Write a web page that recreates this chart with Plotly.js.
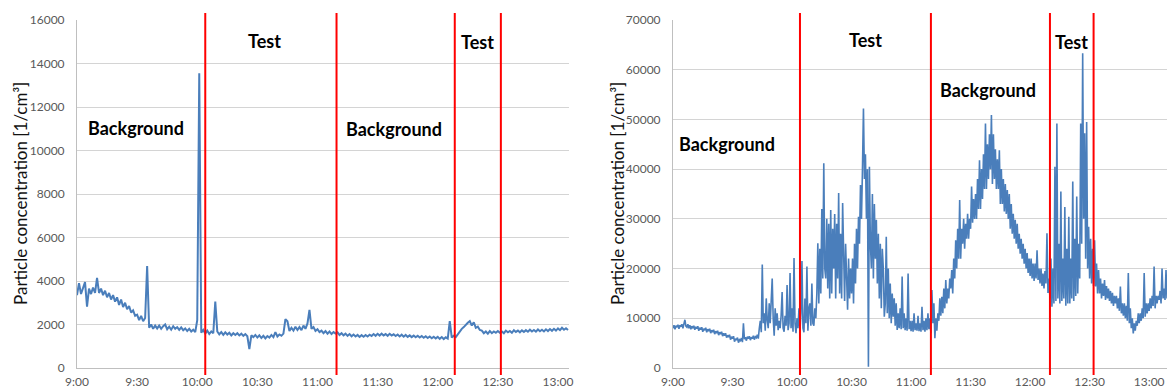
<!DOCTYPE html>
<html>
<head>
<meta charset="utf-8">
<script src="https://cdn.plot.ly/plotly-3.0.1.min.js"></script>
<style>
html,body{margin:0;padding:0;background:#fff;}
#chart{width:1168px;height:392px;}
</style>
</head>
<body>
<div id="chart"></div>
<script>
// Time axis: minutes after 9:00
const tickMinutes = [0, 30, 60, 90, 120, 150, 180, 210, 240];
const tickLabels = ['9:00', '9:30', '10:00', '10:30', '11:00', '11:30', '12:00', '12:30', '13:00'];
const yTitle = 'Particle concentration [1/cm³]';

// Phase boundaries (minutes after 9:00)
const boundariesLeft = [64, 129.5, 188.5, 211.5];
const boundariesRight = [64, 130, 190, 212];

// Left chart: particle concentration [1/cm3], one sample per minute
const leftValues = [
  3350, 3900, 3400, 3700, 3950, 2820, 3650, 3400, 3700, 3450,
  4140, 3450, 3650, 3350, 3550, 3250, 3450, 3150, 3350, 3050,
  3250, 2900, 3150, 2800, 3000, 2700, 2850, 2550, 2650, 2400,
  2450, 2200, 2400, 2150, 2300, 4690, 1850, 2000, 1800, 1950,
  1820, 1950, 1800, 1920, 2000, 1780, 1900, 1760, 1920, 1800,
  1880, 1750, 1870, 1740, 1820, 1700, 1800, 1680, 1760, 1650,
  2200, 13550, 1620, 1750, 1580, 1720, 1560, 1680, 1600, 3050,
  1680, 1550, 1650, 1520, 1640, 1540, 1620, 1500, 1600, 1520,
  1600, 1500, 1580, 1480, 1560, 1460, 870, 1500, 1420, 1520,
  1400, 1500, 1380, 1480, 1360, 1470, 1400, 1520, 1420, 1650,
  1450, 1540, 1480, 1580, 2250, 2150, 1700, 1850, 1720, 1900,
  1750, 1880, 1740, 1950, 1800, 2050, 2670, 1800, 1880, 1700,
  1780, 1650, 1720, 1600, 1700, 1580, 1680, 1560, 1650, 1580,
  1640, 1520, 1600, 1500, 1580, 1480, 1560, 1460, 1540, 1450,
  1520, 1430, 1510, 1440, 1520, 1450, 1530, 1470, 1560, 1480,
  1570, 1490, 1580, 1500, 1560, 1480, 1570, 1490, 1550, 1470,
  1540, 1450, 1530, 1440, 1520, 1430, 1500, 1420, 1490, 1410,
  1480, 1400, 1470, 1390, 1460, 1380, 1450, 1370, 1440, 1360,
  1430, 1340, 1420, 1330, 1410, 1350, 2160, 1400, 1480, 1420,
  1560, 1650, 1800, 1880, 2000, 2080, 2160, 1950, 2100, 1850,
  1900, 1750, 1720, 1600, 1680, 1580, 1700, 1600, 1680, 1620,
  1700, 1620, 1680, 1600, 1720, 1640, 1700, 1620, 1740, 1660,
  1720, 1640, 1730, 1660, 1740, 1670, 1760, 1680, 1750, 1670,
  1770, 1690, 1760, 1680, 1780, 1700, 1790, 1710, 1800, 1720,
  1820, 1740, 1850, 1760, 1830, 1750
];
const leftStepMin = 1;

// Right chart: particle concentration [1/cm3], one sample per 30 s
const rightValues = [
  8000, 8600, 7800, 8500, 8200, 8700, 7900, 8600, 8300, 8800, 8000, 8700, 9700, 8400, 8200, 8800, 8000, 8600, 7800, 8400,
  8100, 8500, 7700, 8300, 7900, 8400, 7500, 8100, 7700, 8200, 7300, 7900, 7600, 8100, 7200, 7800, 7400, 7900, 7000, 7600,
  7200, 7700, 6800, 7400, 7000, 7500, 6600, 7200, 6800, 7300, 6400, 7000, 6500, 7000, 6100, 6600, 6200, 6700, 5700, 6300,
  5900, 6400, 5300, 5900, 5600, 6100, 5100, 5700, 5500, 6000, 5200, 9000, 5800, 6200, 5500, 6300, 5900, 6400, 5600, 6200,
  5900, 6500, 5700, 6300, 6100, 6700, 5900, 8000, 9500, 7200, 20800, 9000, 11000, 7500, 14000, 9500, 8000, 13000, 9000, 13500,
  18000, 10000, 6500, 12000, 8500, 11000, 7600, 9500, 8000, 10500, 15300, 8000, 7300, 10500, 8500, 16700, 7600, 9000, 19100, 8000,
  12000, 7300, 22100, 9000, 7000, 10000, 8000, 12000, 7500, 11000, 21500, 8000, 7200, 14000, 9000, 20400, 7500, 12000, 13000, 8500,
  17000, 9000, 8500, 12000, 10000, 15000, 25100, 13000, 24000, 15000, 32000, 18000, 41200, 20000, 18000, 30000, 16000, 29000, 14000, 31800,
  15000, 28000, 20000, 31000, 14000, 29000, 18000, 35200, 15000, 27000, 14000, 33200, 20000, 13500, 25000, 16000, 11700, 22000, 14000, 20000,
  15000, 22000, 13000, 25000, 17000, 28000, 20000, 30400, 25000, 36800, 30000, 40000, 52200, 38000, 43000, 30000, 40000, 250, 40500, 25000,
  20000, 35000, 18000, 33000, 22000, 29800, 17000, 27000, 14000, 25000, 12000, 24000, 20000, 10300, 13000, 26400, 11000, 20000, 10000, 17000,
  9000, 15000, 10300, 14000, 8500, 13000, 7640, 11000, 8000, 12000, 7800, 18400, 8000, 11000, 7600, 10000, 7500, 19000, 7800, 9500,
  7400, 9500, 7300, 11000, 7600, 9000, 7500, 10500, 7400, 9000, 7300, 12300, 7600, 9500, 7300, 10000, 7600, 11000, 7800, 10000,
  7000, 15700, 9000, 13000, 6000, 10000, 7500, 11000, 9500, 14000, 10500, 14300, 11000, 16000, 12000, 17700, 13000, 16000, 14000, 18000,
  16000, 19700, 15000, 22000, 18000, 25700, 20000, 28000, 22000, 33800, 22000, 28000, 25000, 30000, 24000, 29000, 26000, 31000, 26000, 30000,
  28000, 36500, 29200, 34000, 30000, 35000, 30000, 38000, 32000, 41800, 32000, 40000, 34000, 43000, 36000, 49200, 36000, 45000, 38000, 47000,
  40000, 50900, 37000, 47000, 38000, 44000, 36000, 42000, 36000, 43800, 33000, 40000, 33000, 38000, 31500, 37000, 31000, 35800, 30000, 35000,
  28000, 33000, 27000, 31000, 26000, 29800, 25000, 29000, 24000, 27000, 23000, 26000, 22000, 25000, 21000, 24000, 20000, 23100, 19100, 22000,
  18500, 22000, 18000, 21000, 17500, 21000, 18000, 23700, 17700, 20000, 17000, 20000, 16500, 19000, 16000, 19500, 17000, 27100, 15100, 18000,
  14000, 22000, 12300, 20000, 13000, 40500, 13500, 49200, 14000, 25000, 13000, 35500, 13500, 22000, 14000, 32400, 12500, 24000, 13000, 30400,
  13000, 22000, 14000, 37500, 13500, 26000, 14500, 34500, 15000, 25000, 18000, 49200, 25000, 63300, 30000, 47200, 22000, 49500, 20000, 28400,
  18000, 26000, 17000, 24000, 16500, 25700, 16400, 21000, 15000, 19700, 15000, 18000, 14000, 17000, 14500, 17700, 13700, 16500, 14000, 16000,
  13500, 15500, 13000, 15100, 12500, 14500, 13000, 14500, 12000, 14000, 11500, 16400, 11000, 13000, 10500, 13000, 10000, 12500, 9500, 19100,
  9000, 12000, 8000, 10000, 6970, 9000, 7500, 9500, 8500, 11000, 9000, 11000, 9500, 12000, 10000, 19100, 10300, 13000, 11000, 13000,
  11500, 14000, 12000, 14500, 12500, 20400, 12000, 14500, 13000, 14500, 13700, 15500, 13000, 20000, 14000, 16000, 13700, 19700, 14000, 17000
];
const rightStepMin = 0.5;

const fam = 'Lato, "Open Sans", sans-serif';
const labelFont = {family: fam, size: 18, color: '#000000', weight: 'bold'};
const tickFont = {family: fam, size: 12, color: '#595959'};
const titleFont = {family: fam, size: 17, color: '#111111'};

const minutesL = leftValues.map((_, i) => i * leftStepMin);
const minutesR = rightValues.map((_, i) => i * rightStepMin);

const traces = [
  {x: minutesL, y: leftValues, type: 'scatter', mode: 'lines', line: {color: '#4a7ebb', width: 2}, xaxis: 'x', yaxis: 'y', hoverinfo: 'skip'},
  {x: minutesR, y: rightValues, type: 'scatter', mode: 'lines', line: {color: '#4a7ebb', width: 1.6}, xaxis: 'x2', yaxis: 'y2', hoverinfo: 'skip'}
];

function xAxis(domain, range, anchor) {
  return {
    domain: domain, range: range, anchor: anchor,
    tickmode: 'array', tickvals: tickMinutes, ticktext: tickLabels,
    showgrid: false, zeroline: false,
    showline: true, linecolor: '#bfbfbf', linewidth: 1,
    ticks: '', tickfont: tickFont, ticklabelstandoff: 3
  };
}
function yAxis(range, dtick, anchor) {
  return {
    range: range, dtick: dtick, anchor: anchor, tickformat: 'd',
    showgrid: true, gridcolor: '#d4d4d4', gridwidth: 1,
    zeroline: false, showline: true, linecolor: '#bfbfbf', linewidth: 1,
    ticks: '', tickfont: tickFont,
    ticklabelstandoff: 9
  };
}

const shapes = [];
boundariesLeft.forEach(t => shapes.push({type: 'line', xref: 'x', yref: 'paper', x0: t, x1: t, y0: -0.02, y1: 1.02, line: {color: '#ff0000', width: 2}}));
boundariesRight.forEach(t => shapes.push({type: 'line', xref: 'x2', yref: 'paper', x0: t, x1: t, y0: -0.02, y1: 1.02, line: {color: '#ff0000', width: 2}}));

const annotations = [
  {xref: 'x', yref: 'y', x: 29.5, y: 11030, text: 'Background'},
  {xref: 'x', yref: 'y', x: 93.5, y: 15030, text: 'Test'},
  {xref: 'x', yref: 'y', x: 158, y: 10990, text: 'Background'},
  {xref: 'x', yref: 'y', x: 200, y: 14990, text: 'Test'},
  {xref: 'x2', yref: 'y2', x: 27, y: 45000, text: 'Background'},
  {xref: 'x2', yref: 'y2', x: 97, y: 65980, text: 'Test'},
  {xref: 'x2', yref: 'y2', x: 159, y: 55900, text: 'Background'},
  {xref: 'x2', yref: 'y2', x: 201, y: 65580, text: 'Test'}
].map(a => Object.assign({showarrow: false, font: labelFont, xanchor: 'center', yanchor: 'middle'}, a));

// y-axis titles, placed as rotated text beside each axis
annotations.push(
  {xref: 'paper', yref: 'paper', x: 20/1168, y: 0.5, text: yTitle, textangle: -90, showarrow: false, font: titleFont, xanchor: 'center', yanchor: 'middle'},
  {xref: 'paper', yref: 'paper', x: 617/1168, y: 0.5, text: yTitle, textangle: -90, showarrow: false, font: titleFont, xanchor: 'center', yanchor: 'middle'}
);

const layout = {
  width: 1168, height: 392,
  margin: {l: 0, r: 0, t: 20, b: 24},
  paper_bgcolor: '#ffffff', plot_bgcolor: '#ffffff',
  showlegend: false,
  xaxis: xAxis([77/1168, 569/1168], [0, 245.5], 'y'),
  yaxis: yAxis([0, 16000], 2000, 'x'),
  xaxis2: xAxis([673/1168, 1167/1168], [0, 249], 'y2'),
  yaxis2: yAxis([0, 70000], 10000, 'x2'),
  shapes: shapes,
  annotations: annotations
};

Plotly.newPlot('chart', traces, layout, {displayModeBar: false, staticPlot: true});
</script>
</body>
</html>
